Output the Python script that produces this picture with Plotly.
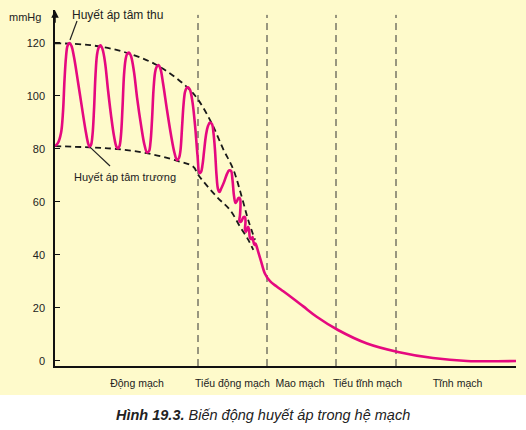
import plotly.graph_objects as go

# huyết áp dọc theo hệ mạch (vị trí tương đối 0-461, mmHg)
pos = [0, 3, 6, 8, 9.5, 11, 12.5, 14.5, 16.5, 19, 23, 27, 30.5, 33, 34.5, 36, 37.5,
       39, 40.5, 42, 43.5, 45.5, 47.5, 50, 53, 56, 59, 61.5, 63, 64.5, 66,
       67.5, 69, 70.5, 72, 74, 76, 79, 82, 86, 89.5, 92, 94, 95.5,
       97, 98.5, 100, 101.5, 103.5, 105.5, 108, 112, 116, 119.5, 122, 124, 125.5,
       127, 128.5, 130, 131.5, 133, 135, 137.5, 140, 142.5, 144.5, 146, 147.5,
       149, 151, 153, 155, 157, 158.5, 160, 161.5, 163, 164.5, 166,
       169, 172, 174, 176, 177.5, 179, 180.5,
       182, 183.5, 185, 185.5, 185, 184.5, 186, 188.5, 190, 190.5, 190, 191, 193,
       194, 195, 196.5, 197.5, 198.5, 199.5, 200.5, 201.5, 203.3, 206,
       210, 215, 221.7, 228.3, 238.3, 248.3, 261.7, 283, 312, 343, 378, 412, 461]
pressure = [81.1, 82.3, 86.0, 94.0, 106.0, 114.7, 118.9, 120.0, 118.9, 114.7, 105.3,
            95.5, 87.2, 82.3, 80.8, 81.5, 85.3,
            94.7, 107.9, 115.5, 118.1, 119.1, 117.7, 112.8, 102.3, 92.8, 84.9, 80.8,
            80.2, 81.1, 85.3,
            95.5, 107.9, 113.6, 115.8, 116.4, 115.1, 109.1, 99.6, 89.1, 81.5, 78.7,
            79.2, 82.6,
            90.9, 102.3, 108.7, 110.9, 111.7, 110.2, 104.9, 94.7, 85.3, 78.5, 75.8,
            76.6, 79.6,
            87.9, 96.6, 101.5, 103.0, 103.3, 102.3, 97.7, 89.1, 77.7, 70.9, 71.3, 74.0,
            78.9, 85.3, 88.7, 90.0, 89.4, 86.0, 79.6, 70.2, 64.9, 63.8, 64.9,
            67.5, 70.6, 71.9, 71.7, 68.3, 62.3, 59.6,
            60.4, 61.5, 61.3, 58.9, 55.1, 52.8, 52.5, 54.3, 54.3, 52.5, 49.4, 48.7, 50.6,
            49.8, 46.4, 46.0, 46.8, 44.9, 43.8, 44.3, 43.4, 41.1, 37.7,
            32.9, 30.1, 28.1, 26.3, 23.5, 20.6, 16.7, 11.7, 6.6, 3.4, 1.1, 0.0, 0.0]

# đường bao huyết áp tâm thu / tâm trương
sys_pos = [0, 35, 68.3, 101.7, 131.7, 143.3, 156.7, 168.3, 178.3, 186.7, 193.3, 200]
sys_val = [119.9, 119.2, 116.7, 111.7, 103.5, 98.5, 89.7, 79.9, 72.3, 62.0, 53.1, 45.7]
dia_pos = [0, 35, 61.7, 91.7, 121.7, 138.3, 143.3, 161.7, 175, 185, 193.3, 198.3]
dia_val = [81.1, 80.6, 80.0, 78.4, 75.6, 73.3, 70.2, 62.0, 57.0, 50.7, 45.7, 41.9]

# ranh giới các đoạn mạch và nhãn
boundaries = [143, 212, 281, 341]
seg_pos = [82, 177.5, 245, 312.5, 402.5]
seg_names = ["Động mạch", "Tiểu động mạch", "Mao mạch", "Tiểu tĩnh mạch", "Tĩnh mạch"]
yticks = [0, 20, 40, 60, 80, 100, 120]

BG = "#FEFACB"
PINK = "#E5097F"
INK = "#222222"
FONT = "Liberation Sans, Arial, sans-serif"

fig = go.Figure()

for xs, ys in [(sys_pos, sys_val), (dia_pos, dia_val)]:
    fig.add_trace(go.Scatter(x=xs, y=ys, mode="lines", hoverinfo="skip",
                             line=dict(color="#1a1a1a", width=1.8, dash="6px,4px",
                                       shape="spline")))
fig.add_trace(go.Scatter(x=pos, y=pressure, mode="lines",
                         line=dict(color=PINK, width=2.6, shape="spline", smoothing=1)))

shapes = [
    # nền vàng, chú thích phía dưới trên nền trắng
    dict(type="rect", xref="paper", yref="paper", x0=-0.2, x1=1.1, y0=-0.0815, y1=1.05,
         fillcolor=BG, line=dict(width=0), layer="below"),
]
for b in boundaries:
    shapes.append(dict(type="line", x0=b, x1=b, y0=-1.9, y1=130.6,
                       line=dict(color="#333333", width=1, dash="7px,5px"), layer="below"))
# đường chỉ nhãn
shapes.append(dict(type="line", x0=22, y0=128.3, x1=15, y1=121.1,
                   line=dict(color=INK, width=1.2)))
shapes.append(dict(type="line", x0=35, y0=80.7, x1=55, y1=73.6,
                   line=dict(color=INK, width=1.2)))

annotations = [
    dict(text="Huyết áp tâm thu", x=15, y=130.6, xanchor="left", yanchor="middle",
         showarrow=False, font=dict(size=12, color=INK)),
    dict(text="Huyết áp tâm trương", x=17, y=69.5, xanchor="left", yanchor="middle",
         showarrow=False, font=dict(size=11, color=INK)),
    dict(text="mmHg", xref="paper", yref="paper", x=-0.026, y=0.98,
         xanchor="right", yanchor="middle", showarrow=False,
         font=dict(size=11, color=INK)),
    # mũi tên trục tung
    dict(x=0, y=132.4, ax=0, ay=14, xref="x", yref="y", text="", showarrow=True,
         arrowhead=2, arrowsize=1, arrowwidth=1.5, arrowcolor="#111111"),
    dict(text="<i><b>Hình 19.3.</b> Biến động huyết áp trong hệ mạch</i>",
         xref="paper", yref="paper", x=0.452, y=-0.138, xanchor="center",
         yanchor="middle", showarrow=False, font=dict(size=14.5, color=INK)),
]

fig.update_layout(
    width=526, height=430,
    margin=dict(l=55, r=10, t=10, b=64),
    paper_bgcolor="white", plot_bgcolor=BG,
    showlegend=False,
    font=dict(family=FONT, size=11, color=INK),
    shapes=shapes, annotations=annotations,
    xaxis=dict(range=[0, 461], tickvals=seg_pos, ticktext=seg_names, ticks="",
               showgrid=False, zeroline=False, showline=True, linecolor="#111111",
               linewidth=1.5, tickfont=dict(size=10.5), ticklabelstandoff=7,
               fixedrange=True),
    yaxis=dict(range=[-1.89, 132.45], tickvals=yticks, ticks="inside", ticklen=5,
               tickcolor="#111111", showgrid=False, zeroline=False, showline=True,
               linecolor="#111111", linewidth=1.5, ticklabelstandoff=6,
               tickfont=dict(size=11), fixedrange=True),
)

fig.write_html("out.html", config={"displayModeBar": False},
               post_script="document.body.style.margin='0';")
